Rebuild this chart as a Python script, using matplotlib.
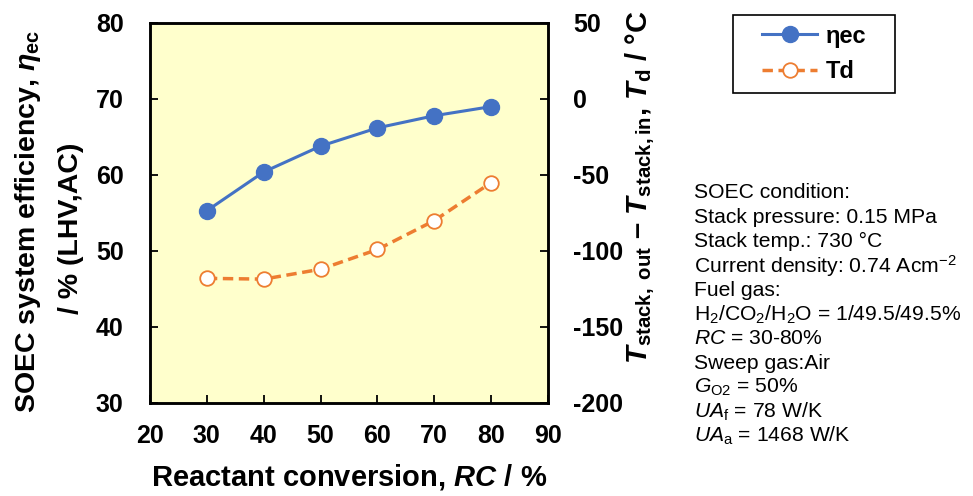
import matplotlib
matplotlib.use("Agg")
import matplotlib.pyplot as plt
from matplotlib.patches import Rectangle
import numpy as np

plt.rcParams['font.family'] = ['Liberation Sans', 'DejaVu Sans']
plt.rcParams['mathtext.fontset'] = 'custom'
plt.rcParams['mathtext.rm'] = 'Liberation Sans'
plt.rcParams['mathtext.it'] = 'Liberation Sans:italic'
plt.rcParams['mathtext.bf'] = 'Liberation Sans:bold'
plt.rcParams['mathtext.bfit'] = 'Liberation Sans:bold:italic'
plt.rcParams['axes.unicode_minus'] = False

# Data
rc = [30, 40, 50, 60, 70, 80]
eta_ec = [55.3, 60.4, 63.8, 66.2, 67.8, 69.0]
t_d = [-118, -118.5, -112, -99, -80, -55]

blue = '#4472C4'
orange = '#ED7D31'

fig = plt.figure(figsize=(9.73, 4.96), dpi=100)
ax = fig.add_axes([150 / 973, 1 - 403 / 496, 398 / 973, 380 / 496])
ax2 = ax.twinx()

ax.set_facecolor('#FFFFCC')
l1, = ax.plot(rc, eta_ec, '-o', color=blue, lw=2.2, ms=11.5,
              markerfacecolor=blue, markeredgecolor=blue, label='ηec', zorder=3)
l2, = ax2.plot(rc, t_d, '--o', color=orange, lw=2.5, ms=10.5, dashes=(3, 1.6),
               markerfacecolor='white', markeredgecolor=orange, markeredgewidth=1.3,
               label='Td', zorder=3)

ax.set_xlim(20, 90)
ax.set_ylim(30, 80)
ax2.set_ylim(-200, 50)
ax.set_xticks(np.arange(20, 91, 10))
ax.set_yticks(np.arange(30, 81, 10))
ax2.set_yticks(np.arange(-200, 51, 50))

for a in (ax, ax2):
    for s in a.spines.values():
        s.set_linewidth(1.8)
ax.tick_params(axis='x', direction='in', length=6, width=1.3, labelsize=18, pad=15)
ax.tick_params(axis='y', direction='in', length=6, width=1.3, labelsize=18, pad=19)
ax2.tick_params(axis='y', direction='in', length=6, width=1.3, labelsize=18, pad=18)
for lab in ax.get_xticklabels() + ax.get_yticklabels() + ax2.get_yticklabels():
    lab.set_fontweight('bold')

ax.set_xlabel('Reactant conversion, $\\mathbfit{RC}$ / %', fontsize=21, fontweight='bold', labelpad=10)

# left axis label, two lines
fig.text(28 / 973, 1 - 221 / 496, 'SOEC system efficiency, $\\mathbfit{\\eta}_{\\mathbf{ec}}$',
         rotation=90, ha='center', va='center', fontsize=20.5, fontweight='bold')
fig.text(71 / 973, 1 - 228 / 496, '/ % (LHV,AC)',
         rotation=90, ha='center', va='center', fontsize=20.5, fontweight='bold')

# right axis label
fig.text(640 / 973, 1 - 187 / 496,
         '$\\mathbfit{T}_{\\mathbf{stack,\\ out}}$ \u2013 $\\mathbfit{T}_{\\mathbf{stack,in}}$, '
         '$\\mathbfit{T}_{\\mathbf{d}}$ / \u00b0C',
         rotation=90, ha='center', va='center', fontsize=21, fontweight='bold')

# legend with a hand-placed frame
fig.add_artist(Rectangle((733 / 973, 1 - 93 / 496), 162 / 973, 78 / 496,
                         transform=fig.transFigure, facecolor='white',
                         edgecolor='black', linewidth=1.2))
fig.legend(handles=[l1, l2], loc='center', bbox_to_anchor=(814 / 973, 1 - 54 / 496),
           frameon=False, handlelength=2.35, handletextpad=0.35, borderpad=0,
           borderaxespad=0, labelspacing=0.55, prop={'weight': 'bold', 'size': 17})

cond = ['SOEC condition:',
        'Stack pressure: 0.15 MPa',
        'Stack temp.: 730 \u00b0C',
        'Current density: 0.74 Acm$^{-2}$',
        'Fuel gas:',
        'H$_2$/CO$_2$/H$_2$O = 1/49.5/49.5%',
        '$\\mathit{RC}$ = 30-80%',
        'Sweep gas:Air',
        '$\\mathit{G}_{\\mathrm{O2}}$ = 50%',
        '$\\mathit{UA}_{\\mathrm{f}}$ = 78 W/K',
        '$\\mathit{UA}_{\\mathrm{a}}$ = 1468 W/K']
for i, line in enumerate(cond):
    fig.text(694 / 973, 1 - (193 + i * 24.3) / 496, line, fontsize=15.2,
             ha='left', va='center')

fig.savefig('out.png', dpi=100)
